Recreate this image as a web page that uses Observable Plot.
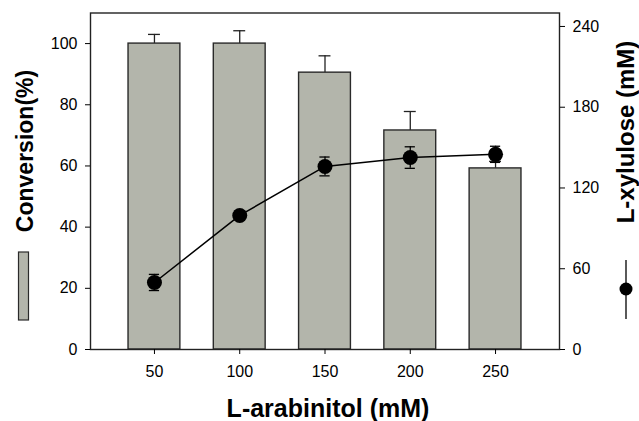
<!DOCTYPE html>
<html><head><meta charset="utf-8">
<script src="https://cdn.jsdelivr.net/npm/d3@7"></script>
<script src="https://cdn.jsdelivr.net/npm/@observablehq/plot@0.6"></script>
<style>body{margin:0;background:#fff;} svg{display:block;} g[aria-label$="tick label"]{font-size:16px;}</style>
</head><body><div id="chart"></div>
<script>
const arabinitol = [50, 100, 150, 200, 250];
const conversion = [100, 100, 90.5, 71.6, 59.2];
const conversionErr = [3, 4.2, 5.5, 6.2, 2.3];
const xylulose = [49.8, 99.6, 136, 142.6, 145];
const xyluloseErr = [6, 3, 7, 8, 6];
const leftTicks = [0, 20, 40, 60, 80, 100];
const rightTicks = [0, 60, 120, 180, 240];
const xTicks = [50, 100, 150, 200, 250];

const LMAX = 110, RMAX = 250;
const toLeft = v => v * LMAX / RMAX;

const bars = arabinitol.map((x, i) => ({x, y: conversion[i], e: conversionErr[i]}));
const pts = arabinitol.map((x, i) => ({x, y: toLeft(xylulose[i]), e: toLeft(xyluloseErr[i])}));

const font = "Liberation Sans, Arial, sans-serif";
const plot = Plot.plot({
  width: 639, height: 421,
  marginLeft: 90, marginRight: 80, marginTop: 12.5, marginBottom: 72,
  style: {fontFamily: font, fontSize: "16px", color: "#000", background: "#fff"},
  x: {domain: [12.5, 287.5]},
  y: {domain: [0, LMAX]},
  marks: [
    Plot.ruleX(bars, {x: "x", y1: "y", y2: d => d.y + d.e, stroke: "#222", strokeWidth: 1.3}),
    Plot.ruleY(bars, {y: d => d.y + d.e, x1: d => d.x - 3.5, x2: d => d.x + 3.5, stroke: "#222", strokeWidth: 1.3}),
    Plot.rectY(bars, {x1: d => d.x - 15.2, x2: d => d.x + 15.2, y1: 0, y2: "y", fill: "#b3b5ab", stroke: "#2a2a2a", strokeWidth: 1.4}),
    Plot.line(pts, {x: "x", y: "y", stroke: "#000", strokeWidth: 1.5}),
    Plot.ruleX(pts, {x: "x", y1: d => d.y - d.e, y2: d => d.y + d.e, stroke: "#000", strokeWidth: 1.3}),
    Plot.ruleY(pts, {y: d => d.y + d.e, x1: d => d.x - 3, x2: d => d.x + 3, stroke: "#000", strokeWidth: 1.3}),
    Plot.ruleY(pts, {y: d => d.y - d.e, x1: d => d.x - 3, x2: d => d.x + 3, stroke: "#000", strokeWidth: 1.3}),
    Plot.dot(pts, {x: "x", y: "y", r: 7.5, fill: "#000", stroke: "none"}),
    Plot.frame({stroke: "#222", strokeWidth: 1.4}),
    Plot.axisX({ticks: xTicks, tickSize: 5, tickPadding: 11, label: null, fontSize: 16}),
    Plot.axisY({ticks: leftTicks, anchor: "left", tickSize: 5, tickPadding: 8, label: null, fontSize: 16}),
    Plot.axisY({ticks: rightTicks.map(toLeft), anchor: "right", tickSize: 5, tickPadding: 8, label: null,
      tickFormat: d => String(Math.round(d * RMAX / LMAX)), fontSize: 16})
  ]
});
document.getElementById("chart").append(plot);

const svg = d3.select(plot);
svg.append("text").attr("x", 328).attr("y", 417).attr("text-anchor", "middle")
  .attr("font-family", font).attr("font-weight", "bold").attr("font-size", 25).attr("fill", "#000")
  .text("L-arabinitol (mM)");
svg.append("text").attr("transform", "translate(33,151) rotate(-90)").attr("text-anchor", "middle")
  .attr("font-family", font).attr("font-weight", "bold").attr("font-size", 23).attr("fill", "#000")
  .text("Conversion(%)");
svg.append("rect").attr("x", 18.5).attr("y", 252).attr("width", 10).attr("height", 68)
  .attr("fill", "#b3b5ab").attr("stroke", "#2a2a2a").attr("stroke-width", 1.2);
svg.append("text").attr("transform", "translate(634,132) rotate(-90)").attr("text-anchor", "middle")
  .attr("font-family", font).attr("font-weight", "bold").attr("font-size", 24).attr("fill", "#000")
  .text("L-xylulose (mM)");
svg.append("line").attr("x1", 626).attr("x2", 626).attr("y1", 260).attr("y2", 319)
  .attr("stroke", "#000").attr("stroke-width", 1.3);
svg.append("circle").attr("cx", 626).attr("cy", 289).attr("r", 6.5).attr("fill", "#000");
</script></body></html>
